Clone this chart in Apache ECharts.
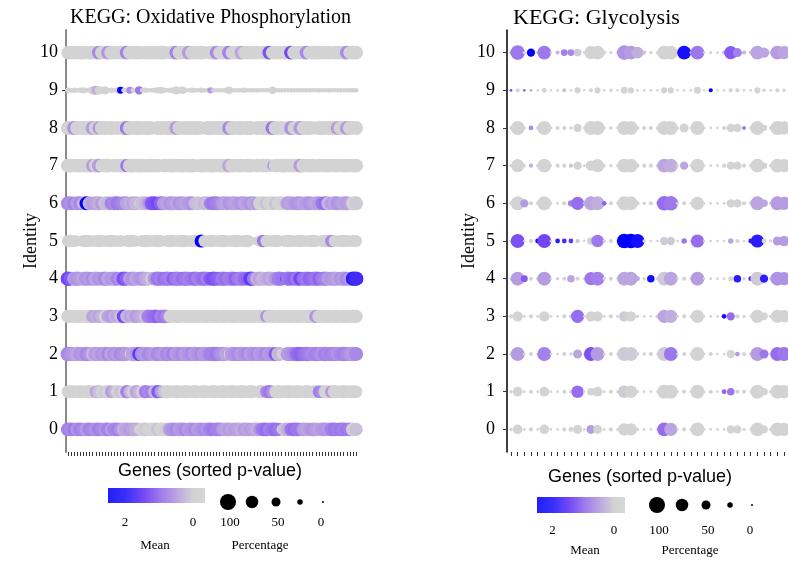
<!DOCTYPE html>
<html><head><meta charset="utf-8">
<script src="https://cdn.jsdelivr.net/npm/echarts@6/dist/echarts.min.js"></script>
<style>html,body{margin:0;padding:0;background:#fff}#c{width:788px;height:563px}</style>
</head><body><div id="c"></div>
<script>
// ---------- DATA ----------
const identities = [0,1,2,3,4,5,6,7,8,9,10];
const meanLegendLabels = ['2','0'];
const pctLegendValues = [100,75,50,25,0];
const pctLegendLabels = ['100','50','0'];

// KEGG: Oxidative Phosphorylation (94 genes) – scaled mean expression per identity
const oxMeanR0 = [.9,.8,1,.7,.9,.8,.6,.9,.8,.7, .9,.8,.7,.9,.6,.8,.9,.7,.4,.5, .6,.5,.4,0,0,.1,0,0,0,.2, 0,0,.1,.6,.7,.8,.6,.7,.8,.6, .7,.8,.6,.7,.8,.7,.9,1,.9,.9, .6,.5,.6,.5,.6,.5,.4,.6,.5,.6, .5,.4,.7,1,1.1,.9,1,1.1,1,0, .2,.4,1,1.1,1,1,.6,.5,.6,.7, .6,.5,.6,.7,.6,.9,1,.9,1,.9, 1,.9,0,.2];
const oxMeanR1 = [0,0,0,0,0,0,0,0,0,.5, .2,0,.1,0,.6,.3,0,.2,0,.9, .3,0,.5,.3,0,.9,.8,.9,.3,1.3, .6,.2,0,0,0,0,0,0,0,0, 0,0,0,0,0,0,0,0,0,0, 0,0,0,0,0,0,0,0,0,0, 0,0,0,0,.8,1,.7,0,0,0, 0,0,0,0,0,0,0,0,0,0, 0,.9,.8,0,0,.6,0,0,0,0, 0,0,0,0];
const oxMeanR2 = [.8,.7,.6,.5,.7,.6,.8,.7,.3,.6, .5,.7,.6,.8,.5,.7,.6,.8,.7,.6, 0,.5,.6,1.6,.7,.6,.8,.7,.6,.8, .7,.6,.8,.7,.9,.6,.7,.8,.6,.7, .8,.6,.7,.8,.6,.7,.9,.9,1,.8, .7,.5,0,.6,.7,.8,.6,.7,.8,.6, .7,.8,.6,.7,.8,.6,.7,1.3,.3,0, .1,.6,.7,.8,1.1,1.2,1.1,1,.9,.8, .9,.8,.7,.9,.8,.9,.8,.7,.8,.9, .8,.7,.6,.8];
const oxMeanR3 = [0,0,0,0,0,0,0,0,.5,.4, .5,.3,0,.5,.6,.4,.5,.2,1.5,.3, .5,.4,.6,.5,.4,.2,.9,1,1.1,1.2, .9,1,.8,0,0,0,0,0,0,0, 0,0,0,0,0,0,0,0,0,0, 0,0,0,0,0,0,0,0,0,0, 0,0,0,0,.7,0,0,0,0,0, 0,0,0,0,0,0,0,0,0,0, .7,0,0,0,0,0,0,0,0,0, 0,0,0,0];
const oxMeanR4 = [1.5,1.3,.6,.7,.6,.5,.7,.6,.8,.5, .7,.6,.8,.5,.7,.6,.9,.7,1.4,1.2, .6,.7,.5,.6,.7,.5,.4,.1,.6,1, .9,1.1,1,.9,1.2,1,.9,1.1,1,.9, 1,1.1,.9,1,1.1,.9,1.3,1.4,1.3,1.2, 1,1.1,.9,1,1.2,1,.9,1.1,1.2,1.6, 1,.4,.5,.3,.4,.5,.4,.6,.9,1, 1.9,1,1.1,1.2,1,1.5,1.1,1,1.2,1.1, 1,1.2,1,.9,.6,.7,.6,.5,.7,.6, .8,.6,1.8,1.7];
const oxMeanR5 = [0,0,0,0,0,0,0,0,0,0, 0,0,0,0,0,0,0,0,0,0, 0,0,0,0,0,0,0,0,0,0, 0,0,0,0,0,0,0,0,0,0, 0,0,0,2,0,0,0,0,0,0, 0,0,0,0,0,0,0,0,0,0, 0,0,0,1,0,0,0,0,0,0, 0,0,0,0,0,0,0,0,0,0, 0,0,0,0,0,.8,0,0,0,0, 0,0,0,0];
const oxMeanR6 = [.8,.7,.9,.6,.8,.3,2,.4,.6,.5, .4,.6,.2,.3,.9,.8,1,.9,.8,.5, .4,.5,.3,0,.2,.3,.6,1.3,1.4,1.5, 1.2,.6,.5,.7,.6,.5,.7,.6,.5,.6, .7,.3,.2,0,.3,.2,.9,1,.9,.8, .6,.5,.7,.6,.5,.6,.7,.5,.6,.7, .5,.6,0,0,.2,0,0,.2,0,0, .3,.6,.5,.6,.7,.6,.5,.6,.7,.6, .5,.6,1,1.1,.3,.6,.5,.7,.6,.5, .6,.5,0,.1];
const oxMeanR7 = [0,0,0,0,0,0,0,0,.6,0, .6,0,0,0,0,0,0,0,0,1, 0,0,0,0,0,0,0,0,0,0, 0,0,0,0,0,0,0,0,0,0, 0,0,0,0,0,0,0,0,0,0, 0,0,.5,0,0,0,0,0,0,0, 0,0,0,0,0,0,.8,0,0,0, 0,0,0,0,0,.6,0,0,0,0, 0,0,0,0,0,0,0,0,0,0, 0,0,0,0];
const oxMeanR8 = [0,0,.7,0,0,0,0,0,.6,0, .6,0,0,0,0,0,0,0,0,1, 0,0,0,0,0,0,0,0,0,0, 0,0,0,0,0,.6,0,0,0,0, 0,0,0,0,0,0,0,0,0,0, 0,0,.8,0,0,0,0,0,0,0, 0,0,0,0,0,0,1,0,0,0, 0,0,.7,0,0,.6,0,0,0,0, 0,0,0,0,0,0,0,.6,0,0, .6,0,0,0];
const oxMeanR9 = [0,0,0,0,0,0,0,0,0,.4, 0,0,0,0,0,0,0,2,0,0, .8,0,0,1,0,0,0,0,0,0, 0,0,0,0,0,0,0,0,0,0, 0,0,0,0,0,0,.6,0,0,0, 0,0,0,0,0,0,0,0,0,0, 0,0,0,0,0,0,0,0,0,0, 0,0,0,0,0,0,0,0,0,0, 0,0,0,0,0,0,0,0,0,0, 0,0,0,0];
const oxMeanR10 = [0,0,0,0,0,0,0,0,0,0, .8,0,0,.7,0,0,0,0,0,.9, 0,0,0,0,0,0,0,0,0,0, 0,0,0,0,0,.9,0,0,0,.6, 0,0,0,0,0,0,0,0,.8,0, 0,0,.9,0,0,0,.5,0,0,0, 0,0,0,0,0,1.4,0,0,0,0, 0,0,1.5,0,0,0,0,.8,0,0, 0,0,0,0,0,0,0,0,0,0, .8,0,0,0];

// percentage of cells expressing
const oxPctR0 = [85,85,80,85,85,80,85,85,80,85, 85,80,85,85,80,85,85,80,85,85, 80,85,85,60,85,85,80,85,85,80, 85,85,80,85,85,80,85,85,80,85, 85,80,85,85,80,85,85,80,85,85, 80,85,85,80,85,85,80,85,85,80, 85,85,80,85,85,80,85,85,80,60, 85,85,80,85,85,80,85,85,80,85, 85,80,85,85,80,85,85,80,85,85, 80,85,85,80];
const oxPctR1 = [75,80,75,75,80,75,75,80,75,75, 80,75,75,80,75,75,80,75,75,80, 75,75,80,75,75,80,75,75,80,80, 75,75,80,75,75,80,75,75,80,75, 75,80,75,75,80,75,75,80,75,75, 80,75,75,80,75,75,80,75,75,80, 75,40,80,75,75,80,75,75,80,75, 75,80,75,75,80,75,75,80,75,75, 80,75,75,80,75,75,80,75,75,80, 75,75,80,75];
const oxPctR2 = [90,85,85,90,85,85,90,85,85,90, 85,85,90,85,85,90,85,85,90,85, 60,90,85,85,90,85,85,80,85,90, 85,85,90,85,85,90,85,85,90,85, 85,90,85,85,90,85,85,90,85,85, 90,85,60,90,85,85,90,85,85,90, 85,85,90,85,85,90,85,85,90,60, 70,90,85,85,90,85,85,90,85,85, 90,85,85,90,85,85,90,85,85,90, 85,85,90,85];
const oxPctR3 = [80,80,75,80,80,75,80,80,80,75, 80,80,75,80,80,75,80,80,85,80, 75,80,80,75,80,80,85,80,85,80, 80,85,80,80,75,80,80,75,80,80, 75,80,80,75,80,80,75,80,80,75, 80,80,75,80,80,75,80,80,75,80, 80,75,80,80,75,80,80,75,80,80, 75,80,80,75,80,80,75,80,80,75, 80,80,75,80,80,75,80,80,75,80, 80,75,80,80];
const oxPctR4 = [90,85,85,90,85,85,90,85,85,90, 85,85,90,85,85,90,85,85,90,85, 85,90,85,85,90,85,85,80,85,90, 85,85,90,85,85,90,85,85,90,85, 85,90,85,85,90,85,85,90,85,85, 90,85,85,90,85,85,90,85,85,90, 85,85,90,85,85,90,85,85,90,85, 50,90,85,85,90,85,85,90,85,85, 90,85,85,90,85,85,90,85,85,90, 85,85,90,90];
const oxPctR5 = [70,75,70,65,40,70,75,70,65,70, 75,70,65,70,75,70,65,70,40,70, 75,70,65,40,70,75,70,65,70,75, 70,40,70,75,70,65,70,75,70,65, 70,75,70,80,70,65,75,70,65,70, 75,70,65,70,75,70,65,70,75,40, 40,45,70,75,70,65,70,75,70,40, 70,75,70,65,70,75,70,65,70,75, 70,40,70,75,70,75,70,65,70,75, 70,65,70,70];
const oxPctR6 = [85,85,80,85,85,80,85,85,80,85, 85,80,85,85,80,85,85,80,85,85, 80,85,85,60,85,85,80,85,85,80, 85,85,80,85,85,80,85,85,80,85, 85,80,85,55,85,85,80,85,85,80, 85,85,80,85,85,80,85,85,80,85, 85,80,85,85,80,85,85,80,85,85, 60,85,85,80,85,85,80,85,85,80, 85,85,80,85,85,80,85,85,80,85, 85,80,85,85];
const oxPctR7 = [85,85,80,85,85,80,85,85,80,85, 85,80,85,85,50,85,80,85,85,80, 85,85,80,85,85,80,85,85,80,85, 45,85,80,85,85,80,85,85,80,85, 85,80,55,85,85,80,85,85,80,85, 85,80,85,85,80,85,85,80,85,85, 45,85,80,85,85,80,60,85,80,85, 85,80,85,85,80,85,85,80,85,85, 55,85,80,85,85,80,85,85,80,85, 85,80,85,85];
const oxPctR8 = [85,80,85,85,80,85,85,80,85,85, 80,85,85,80,85,50,85,80,85,85, 85,80,85,85,80,85,85,80,50,85, 85,80,85,85,80,85,85,80,85,85, 80,85,85,80,55,85,85,80,85,85, 85,80,85,85,80,85,85,80,85,85, 45,85,80,85,85,80,85,85,80,85, 50,85,85,80,85,85,80,85,85,80, 60,85,85,80,85,85,80,85,85,80, 85,85,80,85];
const oxPctR9 = [25,20,25,18,25,30,20,25,45,50, 45,35,45,20,25,18,30,35,20,25, 35,20,25,45,20,25,18,20,25,30, 35,25,20,25,30,45,25,40,20,18, 25,20,18,25,20,18,30,20,18,20, 18,25,40,20,18,20,18,25,18,20, 18,20,18,18,20,18,40,20,18,20, 18,18,20,18,18,20,18,18,20,18, 18,20,18,18,20,18,18,18,20,18, 18,20,18,20];
const oxPctR10 = [80,85,85,80,85,85,80,85,85,80, 85,85,80,85,85,80,85,85,80,85, 85,80,85,85,55,85,85,80,85,85, 85,85,40,80,85,85,85,80,85,85, 80,85,85,85,80,60,85,85,85,80, 85,85,85,80,85,85,85,80,85,85, 80,85,50,85,85,85,80,85,85,80, 85,40,85,85,80,85,85,85,80,85, 85,85,80,85,85,55,85,85,80,85, 85,80,85,85];

// KEGG: Glycolysis (visible 42 genes)
const glyMeanR0 = [0,0,0,0,0,0,0,0,0,0, 0,0,.6,0,0,0,0,0,0,0, 0,0,0,1.1,.5,0,0,0,0,0, 0,0,0,0,0,0,0,0,0,0, 0,0];
const glyMeanR1 = [0,0,0,0,0,0,0,0,0,0, 1.1,0,0,0,0,0,0,.1,0,0, 0,0,0,0,0,0,0,0,0,0, 0,0,1.2,1,0,0,0,0,0,0, 0,0];
const glyMeanR2 = [0,.6,0,0,0,.9,0,0,0,0, .5,0,1.4,.6,0,0,0,.1,.1,0, 0,0,0,.1,1,0,0,0,0,0, 0,0,0,0,.6,0,0,.6,1,0, 1.1,1];
const glyMeanR3 = [0,0,0,0,0,0,0,0,0,0, 1.1,0,0,0,0,0,0,.1,0,0, 0,0,0,.5,.4,0,0,0,0,0, 0,0,1.9,1.1,0,0,0,0,0,0, 0,0];
const glyMeanR4 = [0,.6,1.3,0,0,.6,0,0,0,.5, 0,0,1,.9,0,0,0,.5,.5,.5, 0,1.9,0,.1,.5,0,0,0,.6,0, 0,0,0,0,1.8,0,1.7,.1,1.8,0, .7,.7];
const glyMeanR5 = [0,1.4,0,0,1.9,1.5,0,1.8,1.7,1.6, .2,0,0,1,0,0,0,2,2,1.9, 0,0,0,.1,.1,0,1,0,1.1,0, 0,0,0,.5,0,0,1.8,1.8,0,0, .6,.6];
const glyMeanR6 = [0,0,.6,0,0,0,0,0,0,.9, 1.1,0,.5,.4,1.2,0,0,0,0,0, 0,0,0,1.1,1,0,0,0,0,0, 0,0,0,0,0,0,0,.5,.5,0, .6,.6];
const glyMeanR7 = [0,0,0,.4,0,0,0,0,0,.2, 0,0,0,0,0,0,0,0,0,0, 0,0,0,.5,.4,0,.5,0,0,0, 0,0,0,0,0,0,0,0,0,0, 0,0];
const glyMeanR8 = [0,0,0,.8,0,0,0,0,0,0, 0,0,0,0,0,0,0,0,0,0, 0,0,0,0,0,0,0,0,0,0, 0,0,0,0,0,.9,0,0,0,0, 0,0];
const glyMeanR9 = [1.5,0,1.2,.5,0,0,0,0,.2,0, 0,0,0,0,0,0,0,0,0,0, 0,0,0,0,0,0,0,0,0,0, 2,0,0,0,0,0,0,0,0,0, 0,0];
const glyMeanR10 = [.3,1,0,2,0,1,0,.3,.9,.8, .1,0,0,0,0,0,0,.7,.6,.4, .2,0,0,0,0,0,1.9,0,1,0, 0,0,.2,1.3,.9,.3,0,.5,.5,0, .6,.5];

const glyPctR0 = [10,55,5,15,5,55,5,5,15,20, 50,5,50,50,5,15,5,75,75,10, 5,5,5,85,80,5,15,5,85,5, 5,5,5,45,45,10,5,85,40,10, 85,80];
const glyPctR1 = [10,55,5,15,5,55,5,5,15,10, 75,5,40,55,5,15,5,75,75,10, 5,5,5,85,85,5,15,5,85,5, 15,5,20,40,15,15,5,85,40,10, 85,80];
const glyPctR2 = [10,85,5,15,5,85,5,5,15,10, 50,5,85,85,5,15,5,85,85,15, 10,15,5,85,85,5,15,5,85,5, 15,5,5,45,20,15,10,85,50,10, 85,85];
const glyPctR3 = [15,60,5,15,5,60,5,5,15,15, 80,5,60,60,5,15,5,60,60,10, 5,5,15,80,80,5,15,5,80,5, 5,5,20,45,15,10,5,80,40,10, 80,75];
const glyPctR4 = [10,85,35,15,10,85,5,10,15,40, 15,5,80,85,10,15,5,85,85,20, 10,40,10,85,85,5,15,5,85,5, 5,5,5,20,40,10,20,85,45,10, 85,80];
const glyPctR5 = [10,85,5,15,20,85,5,20,20,20, 15,5,40,75,10,15,5,90,90,85, 10,5,5,45,45,5,25,5,80,5, 5,5,5,25,15,5,20,80,20,10, 50,60];
const glyPctR6 = [10,85,45,15,10,85,5,5,15,30, 80,5,85,85,20,15,5,85,85,15, 10,15,10,90,90,8,15,5,80,5, 5,5,5,45,45,15,10,85,40,10, 85,80];
const glyPctR7 = [10,80,10,15,10,85,5,15,15,15, 45,5,60,80,10,10,5,85,85,15, 15,15,10,85,85,8,45,5,85,5, 5,5,15,45,45,15,10,85,30,10, 85,80];
const glyPctR8 = [10,85,10,20,10,85,5,15,15,10, 45,5,85,85,10,10,5,85,85,15, 15,15,10,85,85,8,50,5,85,5, 5,5,15,45,45,15,10,85,30,10, 85,80];
const glyPctR9 = [5,15,5,5,3,20,3,5,15,5, 30,3,15,30,5,10,3,35,30,5, 5,5,3,30,30,3,5,3,35,3, 15,3,5,15,15,5,5,30,10,5, 15,10];
const glyPctR10 = [10,90,10,45,10,85,5,15,35,35, 40,5,80,85,15,8,5,90,85,70, 15,10,10,85,85,8,85,5,85,5, 8,5,15,80,50,15,15,85,60,10, 85,80];

// ---------- BUILD ----------
const oxMean = [oxMeanR0,oxMeanR1,oxMeanR2,oxMeanR3,oxMeanR4,oxMeanR5,oxMeanR6,oxMeanR7,oxMeanR8,oxMeanR9,oxMeanR10];
const oxPct  = [oxPctR0,oxPctR1,oxPctR2,oxPctR3,oxPctR4,oxPctR5,oxPctR6,oxPctR7,oxPctR8,oxPctR9,oxPctR10];
const glyMean = [glyMeanR0,glyMeanR1,glyMeanR2,glyMeanR3,glyMeanR4,glyMeanR5,glyMeanR6,glyMeanR7,glyMeanR8,glyMeanR9,glyMeanR10];
const glyPct  = [glyPctR0,glyPctR1,glyPctR2,glyPctR3,glyPctR4,glyPctR5,glyPctR6,glyPctR7,glyPctR8,glyPctR9,glyPctR10];

function toData(meanRows, pctRows){
  const out = [];
  for (let r = 0; r < meanRows.length; r++) {
    const m = meanRows[r], p = pctRows[r];
    for (let g = 0; g < m.length; g++) out.push([g, identities[r], m[g], p[g]]);
  }
  return out;
}
const nOx = oxMeanR0.length, nGly = glyMeanR0.length;
const seq = n => Array.from({length:n}, (_, i) => i);
const sizeOf = p => 2 + 14 * p / 100;
const colorStops = ['#D3D3D3','#BBA5E0','#9D77EC','#7248F6','#0000FF'];

const serif = 'Liberation Serif';
const sans = 'Liberation Sans';

function xAx(grid, n){
  return {gridIndex:grid, type:'value', min:-0.6, max:n-0.4,
    axisLine:{show:false, onZero:false},
    axisTick:{show:true, customValues:seq(n), length:4, lineStyle:{color:'#333', width:1}},
    axisLabel:{show:false}, splitLine:{show:false}};
}
function yAx(grid, lineColor, lineWidth, margin, nameGap){
  return {gridIndex:grid, type:'value', min:-0.6, max:10.6,
    axisLine:{show:true, onZero:false, lineStyle:{color:lineColor, width:lineWidth}},
    axisTick:{show:true, customValues:identities, length:4, lineStyle:{color:'#333'}},
    axisLabel:{customValues:identities, fontFamily:serif, fontSize:18, color:'#000', margin:margin},
    splitLine:{show:false},
    name:'Identity', nameLocation:'middle', nameGap:nameGap, nameRotate:90, nameMoveOverlap:false,
    nameTextStyle:{fontFamily:serif, fontSize:18, color:'#000'}};
}

function legend(o){
  const els = [];
  els.push({type:'text', style:{text:'Genes (sorted p-value)', x:o.gx, y:o.gy, textAlign:'center', textVerticalAlign:'middle', font:'18px "'+sans+'"', fill:'#000'}});
  els.push({type:'rect', shape:{x:o.bx, y:o.by, width:o.bw, height:o.bh},
    style:{fill:new echarts.graphic.LinearGradient(0,0,1,0,[
      {offset:0,color:'#2020fa'},{offset:0.18,color:'#3a2ff8'},{offset:0.36,color:'#7248F6'},
      {offset:0.53,color:'#9D77EC'},{offset:0.71,color:'#BBA5E0'},{offset:0.88,color:'#D3D3D3'},{offset:1,color:'#D6D6D6'}])}});
  const lf = '13px "'+serif+'"';
  els.push({type:'text', style:{text:meanLegendLabels[0], x:o.bx+o.bw*0.175, y:o.ly, textAlign:'center', textVerticalAlign:'middle', font:lf, fill:'#000'}});
  els.push({type:'text', style:{text:meanLegendLabels[1], x:o.bx+o.bw*0.876, y:o.ly, textAlign:'center', textVerticalAlign:'middle', font:lf, fill:'#000'}});
  els.push({type:'text', style:{text:'Mean', x:o.mx, y:o.ny, textAlign:'center', textVerticalAlign:'middle', font:lf, fill:'#000'}});
  pctLegendValues.forEach((v,i)=>{
    els.push({type:'circle', shape:{cx:o.dx[i], cy:o.dy, r:sizeOf(v)/2}, style:{fill:'#000'}});
  });
  els.push({type:'text', style:{text:pctLegendLabels[0], x:o.dx[0]+2, y:o.ly, textAlign:'center', textVerticalAlign:'middle', font:lf, fill:'#000'}});
  els.push({type:'text', style:{text:pctLegendLabels[1], x:o.dx[2]+2, y:o.ly, textAlign:'center', textVerticalAlign:'middle', font:lf, fill:'#000'}});
  els.push({type:'text', style:{text:pctLegendLabels[2], x:o.dx[4]-2, y:o.ly, textAlign:'center', textVerticalAlign:'middle', font:lf, fill:'#000'}});
  els.push({type:'text', style:{text:'Percentage', x:o.px, y:o.ny, textAlign:'center', textVerticalAlign:'middle', font:lf, fill:'#000'}});
  return els;
}

const chart = echarts.init(document.getElementById('c'));
chart.setOption({
  animation:false,
  backgroundColor:'#fff',
  title:[
    {text:'KEGG: Oxidative Phosphorylation', left:65, top:3, textStyle:{fontFamily:serif, fontSize:20, fontWeight:'normal', color:'#000'}},
    {text:'KEGG: Glycolysis', left:508, top:2, textStyle:{fontFamily:serif, fontSize:22, fontWeight:'normal', color:'#000'}}
  ],
  grid:[
    {left:66, top:30, width:292, height:422},
    {left:507, top:30, width:287, height:422}
  ],
  xAxis:[xAx(0,nOx), xAx(1,nGly)],
  yAxis:[yAx(0,'#8a8a8a',2,8,26), yAx(1,'#000',1.5,12,29)],
  visualMap:{type:'continuous', show:false, dimension:2, min:0, max:2, seriesIndex:[0,1], inRange:{color:colorStops}},
  series:[
    {type:'scatter', xAxisIndex:0, yAxisIndex:0, data:toData(oxMean, oxPct), symbolSize:v=>sizeOf(v[3]), itemStyle:{opacity:1}, clip:false},
    {type:'scatter', xAxisIndex:1, yAxisIndex:1, data:toData(glyMean, glyPct), symbolSize:v=>sizeOf(v[3]), itemStyle:{opacity:1}, clip:false}
  ],
  graphic:[].concat(
    legend({gx:210, gy:471, bx:108, by:488, bw:97, bh:15, ly:523, mx:155, px:260, ny:546, dx:[228,252,276,300,323], dy:502}),
    legend({gx:640, gy:477, bx:537, by:497, bw:88, bh:16, ly:531, mx:585, px:690, ny:551, dx:[657,682,706,730,752], dy:505})
  )
});
</script></body></html>
